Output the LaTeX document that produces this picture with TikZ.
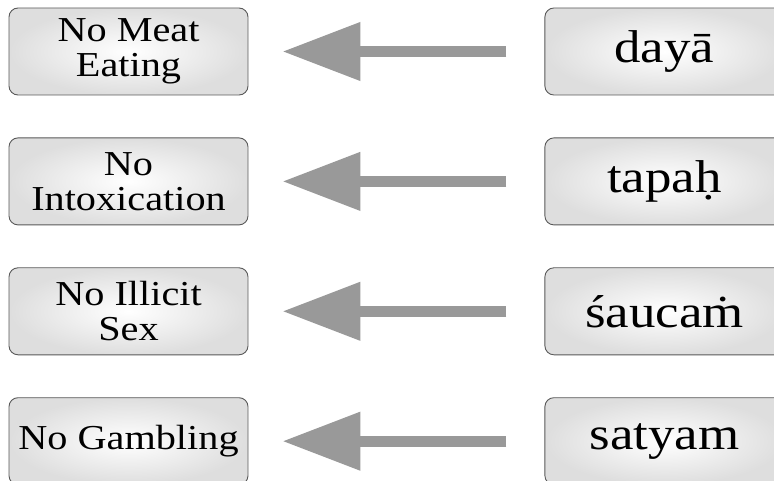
\documentclass[tikz,border=0pt]{standalone}
\usepackage{xcolor}
\usepackage{fontspec}
\setmainfont[FakeStretch=1.15]{Liberation Serif}
\usetikzlibrary{positioning, arrows.meta}

\tikzset{
    vowbox/.style={draw=black!65, line width=0.9pt, rounded corners=9pt,
        inner color=white, outer color=black!13,
        minimum width=239pt, minimum height=87pt, align=center},
    lefttext/.style={font=\fontsize{35}{35}\selectfont},
    righttext/.style={font=\fontsize{46}{46}\selectfont},
    bigarrow/.style={draw=black!40, line width=11pt,
        -{Triangle[length=78pt, width=56pt]},
        shorten <=38pt, shorten >=34pt}
}

\begin{document}
\begin{tikzpicture}[node distance=42pt and 296pt]
        \useasboundingbox (0,0) rectangle (774pt,480pt);
            \node[vowbox, lefttext] at (128.5pt,428.5pt) (meat) {No Meat\\Eating};
            \node[vowbox, lefttext, below=of meat] (intox) {No\\Intoxication};
            \node[vowbox, lefttext, below=of intox] (sex) {No Illicit\\Sex};
            \node[vowbox, lefttext, below=of sex] (gamb) {No Gambling};
            \node[vowbox, righttext, right=of meat] (daya) {dayā};
            \node[vowbox, righttext, right=of intox] (tapah) {tapaḥ};
            \node[vowbox, righttext, right=of sex] (saucam) {śaucaṁ};
            \node[vowbox, righttext, right=of gamb] (satyam) {satyam};
            \draw[bigarrow] (daya) -- (meat);
            \draw[bigarrow] (tapah) -- (intox);
            \draw[bigarrow] (saucam) -- (sex);
            \draw[bigarrow] (satyam) -- (gamb);
    \end{tikzpicture}
\end{document}
